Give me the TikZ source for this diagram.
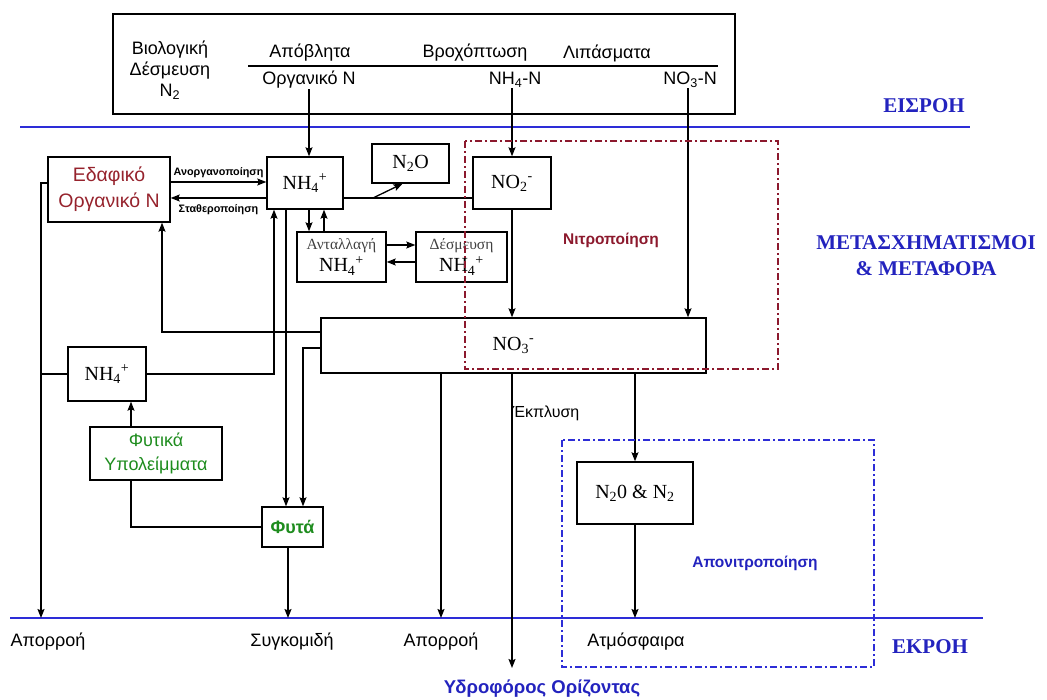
\documentclass[tikz,border=0pt]{standalone}
\usepackage{fontspec}
\setmainfont{Liberation Serif}
\setsansfont{Liberation Sans}
\usepackage{tikz}
\usetikzlibrary{arrows,arrows.meta}
\definecolor{soilred}{RGB}{150,35,45}
\definecolor{nitrored}{RGB}{140,25,45}
\definecolor{flowblue}{RGB}{45,45,215}
\definecolor{textblue}{RGB}{35,35,190}
\definecolor{plantgreen}{RGB}{30,140,30}
\newcommand{\ammon}{NH\textsubscript{4}\textsuperscript{+}}

\begin{document}
\begin{tikzpicture}[>={Stealth[length=9pt,width=7pt,inset=1.5pt]},x=1pt,y=-1pt,line width=1.3pt,
    main node/.style={draw,line width=1.4pt,inner sep=0pt,align=center,font=\fontsize{20}{22}\selectfont},
    text node/.style={inner sep=0pt,align=center,font=\sffamily\fontsize{18}{21}\selectfont},
    flow node/.style={inner sep=0pt,font=\sffamily\bfseries\fontsize{10.8}{12}\selectfont},
    zone node/.style={inner sep=0pt,align=center,text=textblue,font=\bfseries\fontsize{21}{26}\selectfont},
    boundary/.style={flowblue,line width=2pt},
    zone frame/.style={line width=1.6pt,dash pattern=on 7pt off 3pt on 2pt off 3pt}]
  \useasboundingbox (0,0) rectangle (1047,700);

  % inputs
  \node[main node,minimum width=622,minimum height=100] (inputs) at (424,64) {};
  \node[text node] (bio) at (170,70) {Βιολογική\\Δέσμευση\\N\textsubscript{2}};
  \node[text node] (waste) at (310,53) {Απόβλητα};
  \node[text node] (rain) at (475,53) {Βροχόπτωση};
  \node[text node] (fert) at (607,53) {Λιπάσματα};
  \node[text node] (orgIn) at (309,80) {Οργανικό N};
  \node[text node] (ammIn) at (515,80) {NH\textsubscript{4}-N};
  \node[text node] (nitIn) at (690,80) {NO\textsubscript{3}-N};
  \draw[line width=1.4pt] (248,66) -- (718,66);

  \draw[boundary] (20,127) -- (970,127);
  \draw[boundary] (10,618) -- (983,618);
  \node[zone node] (inflow) at (924,106) {ΕΙΣΡΟΗ};
  \node[zone node] (transf) at (926,256) {ΜΕΤΑΣΧΗΜΑΤΙΣΜΟΙ\\\& ΜΕΤΑΦΟΡΑ};
  \node[zone node] (outflow) at (930,647) {ΕΚΡΟΗ};

  % soil boxes
  \node[main node,minimum width=122,minimum height=65,text=soilred,
        font=\sffamily\fontsize{19.5}{26}\selectfont] (orgN) at (109,189.5) {Εδαφικό\\Οργανικό N};
  \node[main node,minimum width=76,minimum height=52] (nh4) at (305,183) {\ammon};
  \node[main node,minimum width=77,minimum height=39] (n2o) at (410.5,163.5) {N\textsubscript{2}O};
  \node[main node,minimum width=78,minimum height=52] (no2) at (512,183) {NO\textsubscript{2}\textsuperscript{-}};
  \node[main node,minimum width=89,minimum height=50] (exch) at (341.5,257)
        {{\fontsize{15.5}{17}\selectfont\color{black!75}Ανταλλαγή}\\\ammon};
  \node[main node,minimum width=91,minimum height=50] (fix) at (461.5,257)
        {{\fontsize{15.5}{17}\selectfont\color{black!75}Δέσμευση}\\\ammon};
  \node[main node,minimum width=385,minimum height=55] (no3) at (513.5,345.5) {NO\textsubscript{3}\textsuperscript{-}};
  \node[main node,minimum width=78,minimum height=54] (nh4b) at (107,374) {\ammon};
  \node[main node,minimum width=132,minimum height=53,text=plantgreen,
        font=\sffamily\fontsize{18}{24}\selectfont] (resid) at (156,453.5) {Φυτικά\\Υπολείμματα};
  \node[main node,minimum width=61,minimum height=40,text=plantgreen,
        font=\sffamily\bfseries\fontsize{18}{20}\selectfont] (plants) at (292.5,527) {Φυτά};
  \node[main node,minimum width=116,minimum height=62] (gas) at (635,493) {N\textsubscript{2}0 \& N\textsubscript{2}};

  % outputs
  \foreach \x/\name in {41/outA,288/outB,441/outC,635/outD}
    \coordinate (\name) at (\x,618);
  \coordinate (split) at (373,198);
  \coordinate (ground) at (512,668);
  \node[text node] (runoffA) at (48,642) {Απορροή};
  \node[text node] (harvest) at (292,642) {Συγκομιδή};
  \node[text node] (runoffB) at (441,642) {Απορροή};
  \node[text node] (atmos) at (636,642) {Ατμόσφαιρα};
  \node[text node,text=textblue,font=\sffamily\bfseries\fontsize{18.5}{20}\selectfont] (aquifer) at (542,689) {Υδροφόρος Ορίζοντας};
  \node[text node,font=\sffamily\fontsize{16}{18}\selectfont] (leach) at (546,413) {Έκπλυση};

  % connectors
  \draw[->] (orgIn.south) -- (orgIn.south |- nh4.north);
  \draw[->] (no2.north |- ammIn.south) -- (no2.north);
  \draw[->] (nitIn.south -| 688,0) -- (no3.north -| 688,0);
  \draw[->] ([yshift=7.5]orgN.east) -- ([yshift=7.5]orgN.east -| nh4.west)
    node[flow node,midway,above=4pt] {Ανοργανοποίηση};
  \draw[->] ([yshift=-8.5]orgN.east -| nh4.west) -- ([yshift=-8.5]orgN.east)
    node[flow node,midway,below=6pt] {Σταθεροποίηση};
  \draw (nh4.east |- split) -- (no2.west |- split);
  \draw[->] (split) -- ([xshift=-8]n2o.south);
  \draw[->] (nh4.south -| 309,0) -- (exch.north -| 309,0);
  \draw[->] (exch.north -| 324,0) -- (nh4.south -| 324,0);
  \draw[->] (exch.east |- 0,245) -- (fix.west |- 0,245);
  \draw[->] (fix.west |- 0,262) -- (exch.east |- 0,262);
  \draw[->] (no2.south) -- (no2.south |- no3.north);
  \draw[->] (orgN.west |- 0,183) -- (outA |- 0,183) -- (outA);
  \draw (nh4b.west) -- (nh4b.west -| outA);
  \draw[->] (nh4b.east) -- (nh4b.east -| 274,0) -- (nh4.south -| 274,0);
  \draw[->] (no3.west |- 0,332) -- (162,332) -- (orgN.south -| 162,0);
  \draw[->] (no3.west |- 0,348) -- (303,348) -- (plants.north -| 303,0);
  \draw[->] (nh4.south -| 286,0) -- (plants.north -| 286,0);
  \draw[->] (resid.north -| 131,0) -- (nh4b.south -| 131,0);
  \draw (plants.west) -- (plants.west -| 131,0) -- (resid.south -| 131,0);
  \draw[->] (plants.south -| outB) -- (outB);
  \draw[->] (no3.south -| outC) -- (outC);
  \draw[->] (no3.south -| ground) -- (ground);
  \draw[->] (no3.south -| gas.north) -- (gas.north);
  \draw[->] (gas.south) -- (outD);

  % process zones
  \draw[zone frame,nitrored] (465,141) rectangle (778,369);
  \draw[zone frame,flowblue] (562,440) rectangle (874,667);
  \node[text=nitrored,font=\sffamily\bfseries\fontsize{15.5}{17}\selectfont] (nitrif) at (611,240) {Νιτροποίηση};
  \node[text=textblue,font=\sffamily\bfseries\fontsize{15.5}{17}\selectfont] (denit) at (755,563) {Απονιτροποίηση};
\end{tikzpicture}
\end{document}
